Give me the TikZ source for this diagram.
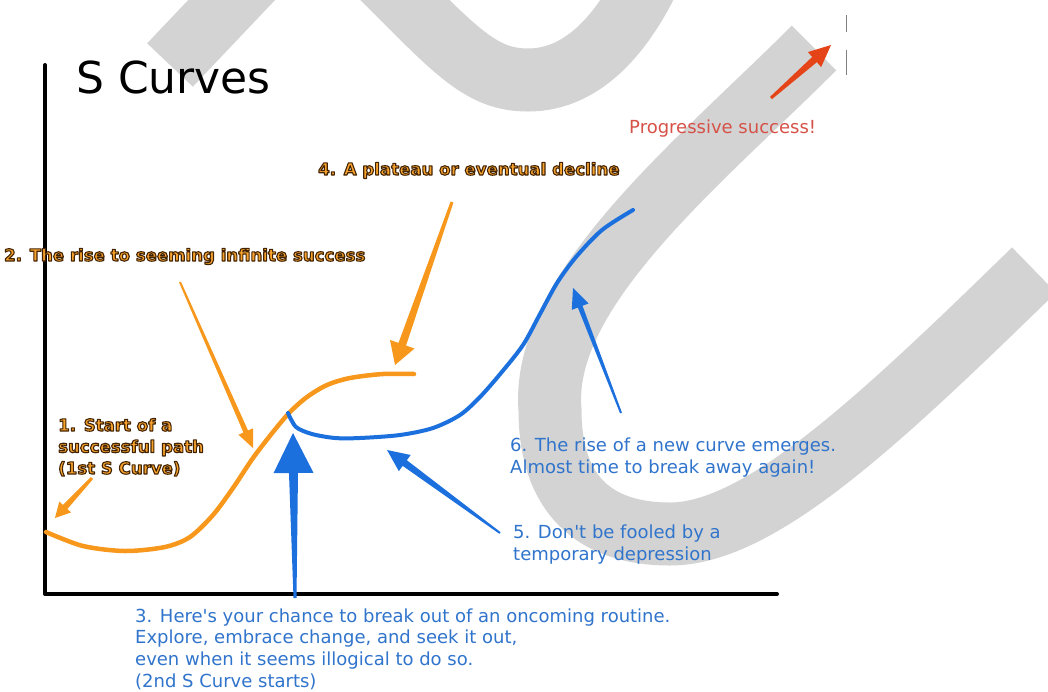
\documentclass[tikz,border=0pt]{standalone}
\usepackage{fontspec}
\setmainfont{DejaVu Sans}[Ligatures=TeXOff]
\usetikzlibrary{calc}
\definecolor{wm}{RGB}{211,211,211}
\definecolor{org}{RGB}{247,152,29}
\definecolor{orgtxt}{RGB}{249,163,44}
\definecolor{blu}{RGB}{28,112,222}
\definecolor{blutxt}{RGB}{48,116,204}
\definecolor{redarr}{RGB}{228,68,24}
\definecolor{redtxt}{RGB}{214,82,72}
% orange text with a dark outline (fill + stroke, one text)
\newcommand\strk[1]{{\color{orgtxt}\special{pdf:literal direct 2 Tr 1.1 w 0.26 0.14 0.02 RG 1 j}#1\special{pdf:literal direct 0 Tr 0.4 w}}}
% tapered arrow: tail, tip, tail half width, shaft half width, head length, head half width, colour
\newcommand\tarrow[7]{%
\coordinate (hb) at ($(#2)!#5!(#1)$);
\fill[#7] ($(#1)!#3!90:(#2)$) -- ($(hb)!#4!270:(#1)$) -- ($(hb)!#6!270:(#1)$) -- (#2)
 -- ($(hb)!#6!90:(#1)$) -- ($(hb)!#4!90:(#1)$) -- ($(#1)!#3!270:(#2)$) -- cycle;}
\tikzset{
  olab/.style={anchor=base west, inner sep=0pt, font=\fontsize{16.6}{21.5}\selectfont\bfseries, align=left},
  blab/.style={anchor=base west, inner sep=0pt, text=blutxt, font=\fontsize{18}{21.6}\selectfont, align=left},
  wmark/.style={draw=wm, line width=63pt, line cap=butt},
}
\begin{document}
\begin{tikzpicture}[x=1pt,y=-1pt]
\useasboundingbox (0,0) rectangle (1048,691);
\fill[white] (0,0) rectangle (1048,691);
% watermark shapes
\begin{scope}
\clip (0,0) rectangle (1048,691);
\draw[wmark] (170,65) -- (262,-32);
\draw[wmark] (378,-27) .. controls (455,50) and (480,80) .. (528,80)
  .. controls (585,80) and (625,30) .. (652,-28);
\draw[wmark] (814,48) .. controls (700,162) and (540,290) .. (550,410)
  .. controls (550,495) and (595,534) .. (670,534)
  .. controls (760,534) and (880,420) .. (1034,270);
\end{scope}
% coordinates
\coordinate (ytop) at (45,65);
\coordinate (orig) at (45,594);
\coordinate (xend) at (777,594);
\coordinate (a1t) at (92,478);  \coordinate (a1h) at (55,518);
\coordinate (a2t) at (180,282); \coordinate (a2h) at (253,448);
\coordinate (a4t) at (452,202); \coordinate (a4h) at (395,365);
\coordinate (a3t) at (295,598); \coordinate (a3h) at (293,433);
\coordinate (a5t) at (500,533); \coordinate (a5h) at (387,450);
\coordinate (a6t) at (621,413); \coordinate (a6h) at (573,288);
\coordinate (art) at (771,98);  \coordinate (arh) at (831,45);
\coordinate (m1) at (846,15); \coordinate (m2) at (846,32);
\coordinate (m3) at (846,50); \coordinate (m4) at (846,75);
% axes
\draw[line width=4pt, line cap=round, line join=round] (ytop) -- (orig) -- (xend);
% curves
\draw[org, line width=4.5pt, line cap=round] plot[smooth] coordinates {
 (46,532) (83,546) (125,551) (165,547) (190,537) (213,515) (233,488) (253,458)
 (273,432) (290,412) (307,397) (327,385) (350,378) (383,374) (414,374)};
\draw[blu, line width=4pt, line cap=round] plot[smooth] coordinates {
 (288,413) (296,427) (312,434) (335,438) (360,438) (400,435) (433,428) (460,415)
 (480,397) (501,373) (523,345) (540,314) (557,283) (576,257) (602,230) (633,210)};
% arrows
\tarrow{a1t}{a1h}{1.5pt}{3pt}{15pt}{8pt}{org}
\tarrow{a2t}{a2h}{1pt}{2.5pt}{18pt}{8pt}{org}
\tarrow{a4t}{a4h}{1.5pt}{4pt}{22pt}{13pt}{org}
\tarrow{a3t}{a3h}{1.5pt}{4.5pt}{40pt}{20pt}{blu}
\tarrow{a5t}{a5h}{1pt}{3.5pt}{22pt}{10pt}{blu}
\tarrow{a6t}{a6h}{1pt}{2.5pt}{20pt}{9pt}{blu}
\tarrow{art}{arh}{1.5pt}{3.5pt}{22pt}{10pt}{redarr}
\draw[gray, line width=0.8pt] (m1) -- (m2) (m3) -- (m4);
% texts
\node[anchor=base west, inner sep=0pt, font=\fontsize{44}{44}\selectfont] (title) at (76,93) {S Curves};
\node[olab] (lab2) at (4,261) {\strk{2. The rise to seeming infinite success}};
\node[olab] (lab4) at (318,175) {\strk{4. A plateau or eventual decline}};
\node[olab] (lab1) at (58,474) {\strk{1. Start of a}\\ \strk{successful path}\\ \strk{(1st S Curve)}};
\node[blab, text=redtxt] (prog) at (629,133) {Progressive success!};
\node[blab] (lab6) at (510,473) {6. The rise of a new curve emerges.\\ Almost time to break away again!};
\node[blab] (lab5) at (513,560) {5. Don't be fooled by a\\ temporary depression};
\node[blab] (lab3) at (135,687)
  {3. Here's your chance to break out of an oncoming routine.\\
   Explore, embrace change, and seek it out,\\
   even when it seems illogical to do so.\\
   (2nd S Curve starts)};
\end{tikzpicture}
\end{document}
